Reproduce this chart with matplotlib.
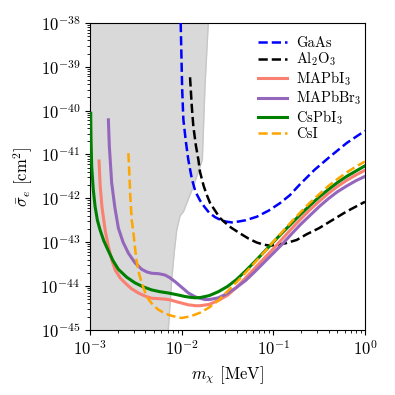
import numpy as np
import matplotlib
matplotlib.use("Agg")
import matplotlib.pyplot as plt

plt.rcParams["font.family"] = "serif"
plt.rcParams["font.serif"] = ["cmr10"]
plt.rcParams["mathtext.fontset"] = "cm"
plt.rcParams["axes.formatter.use_mathtext"] = True
plt.rcParams["font.size"] = 12

# log10 values (x: m_chi in MeV, y: sigma_e in cm^2)
excl_logx = [-2.146, -2.13, -2.109, -2.08, -2.054, -2.018, -1.98, -1.873, -1.775, -1.746, -1.71]
excl_logy = [-45.0, -44.5, -43.86, -43.2, -42.72, -42.40, -42.30, -41.73, -41.12, -39.45, -38.0]

gaas_logx = [-2.011, -1.995, -1.982, -1.955, -1.928, -1.89, -1.85, -1.80, -1.75, -1.70, -1.636,
             -1.58, -1.52, -1.454, -1.38, -1.30, -1.18, -1.05, -0.927, -0.82, -0.709, -0.55,
             -0.382, -0.2, 0.0]
gaas_logy = [-38.0, -39.5, -40.2, -40.7, -41.12, -41.55, -41.85, -42.05, -42.2, -42.33, -42.43,
             -42.49, -42.53, -42.55, -42.53, -42.5, -42.42, -42.28, -42.11, -41.93, -41.68, -41.35,
             -41.05, -40.74, -40.46]

al2o3_logx = [-1.909, -1.89, -1.873, -1.845, -1.818, -1.80, -1.76, -1.727, -1.69, -1.63, -1.582,
              -1.546, -1.46, -1.364, -1.27, -1.18, -1.10, -1.036, -0.95, -0.855, -0.745, -0.636,
              -0.5, -0.382, -0.2, 0.0]
al2o3_logy = [-39.24, -39.9, -40.36, -40.8, -41.12, -41.4, -41.72, -41.92, -42.11, -42.3, -42.45,
              -42.52, -42.67, -42.8, -42.92, -43.01, -43.06, -43.08, -43.06, -43.02, -42.95, -42.82,
              -42.68, -42.53, -42.3, -42.08]

mapbi3_logx = [-2.902, -2.89, -2.87, -2.836, -2.80, -2.764, -2.727, -2.67, -2.618, -2.55, -2.473,
               -2.40, -2.327, -2.25, -2.182, -2.12, -2.073, -2.0, -1.927, -1.85, -1.8, -1.7, -1.6,
               -1.5, -1.4, -1.3, -1.2, -1.1, -1.0, -0.9, -0.8, -0.7, -0.6, -0.5, -0.4, -0.3, -0.2,
               -0.1, 0.0]
mapbi3_logy = [-41.15, -41.7, -42.2, -42.72, -43.1, -43.4, -43.63, -43.82, -43.93, -44.06, -44.16,
               -44.23, -44.28, -44.29, -44.3, -44.32, -44.35, -44.39, -44.43, -44.45, -44.45, -44.42,
               -44.33, -44.21, -44.03, -43.81, -43.59, -43.37, -43.15, -42.92, -42.69, -42.47,
               -42.26, -42.07, -41.89, -41.73, -41.59, -41.47, -41.36]

mapbbr3_logx = [-2.8, -2.79, -2.764, -2.73, -2.691, -2.64, -2.582, -2.51, -2.436, -2.38, -2.327,
                -2.25, -2.182, -2.13, -2.073, -2.0, -1.927, -1.85, -1.782, -1.745, -1.7, -1.6,
                -1.5, -1.4, -1.3, -1.2, -1.1, -1.0, -0.9, -0.8, -0.7, -0.6, -0.5, -0.4, -0.3,
                -0.2, -0.1, 0.0]
mapbbr3_logy = [-40.21, -40.8, -41.65, -42.2, -42.68, -43.0, -43.25, -43.47, -43.62, -43.68, -43.71,
                -43.72, -43.75, -43.81, -43.9, -44.03, -44.16, -44.25, -44.29, -44.31, -44.31,
                -44.27, -44.17, -44.03, -43.87, -43.67, -43.46, -43.25, -43.04, -42.81, -42.59,
                -42.39, -42.19, -42.01, -41.85, -41.72, -41.60, -41.5]

cspbi3_logx = [-2.993, -2.99, -2.982, -2.965, -2.945, -2.92, -2.891, -2.85, -2.80, -2.75, -2.691,
               -2.60, -2.509, -2.42, -2.327, -2.24, -2.146, -2.05, -1.964, -1.9, -1.85, -1.8,
               -1.7, -1.6, -1.5, -1.4, -1.3, -1.2, -1.1, -1.0, -0.9, -0.8, -0.7, -0.6, -0.5, -0.4,
               -0.3, -0.2, -0.1, 0.0]
cspbi3_logy = [-40.06, -40.6, -41.28, -41.8, -42.19, -42.5, -42.72, -42.97, -43.2, -43.42, -43.62,
               -43.8, -43.93, -44.02, -44.09, -44.13, -44.16, -44.2, -44.24, -44.26, -44.27,
               -44.265, -44.22, -44.13, -44.01, -43.85, -43.65, -43.44, -43.22, -43.0, -42.78,
               -42.57, -42.36, -42.16, -41.97, -41.80, -41.64, -41.50, -41.38, -41.26]

csi_logx = [-2.582, -2.57, -2.56, -2.545, -2.527, -2.51, -2.491, -2.465, -2.436, -2.40, -2.364,
            -2.31, -2.255, -2.18, -2.109, -2.05, -2.0, -1.9, -1.8, -1.7, -1.6, -1.5, -1.4, -1.3,
            -1.2, -1.1, -1.0, -0.9, -0.8, -0.7, -0.6, -0.5, -0.4, -0.3, -0.2, -0.1, 0.0]
csi_logy = [-40.97, -41.5, -42.0, -42.5, -42.78, -43.12, -43.45, -43.72, -43.93, -44.14, -44.3,
            -44.44, -44.54, -44.63, -44.68, -44.71, -44.73, -44.69, -44.61, -44.49, -44.33, -44.12,
            -43.91, -43.69, -43.46, -43.23, -42.99, -42.76, -42.53, -42.31, -42.1, -41.91, -41.72,
            -41.56, -41.41, -41.28, -41.16]

curves = [
    ("GaAs", gaas_logx, gaas_logy, "blue", "--", 1.8),
    ("Al$_2$O$_3$", al2o3_logx, al2o3_logy, "black", "--", 1.8),
    ("MAPbI$_3$", mapbi3_logx, mapbi3_logy, "salmon", "-", 2.2),
    ("MAPbBr$_3$", mapbbr3_logx, mapbbr3_logy, "tab:purple", "-", 2.2),
    ("CsPbI$_3$", cspbi3_logx, cspbi3_logy, "green", "-", 2.2),
    ("CsI", csi_logx, csi_logy, "orange", "--", 1.8),
]

fig = plt.figure(figsize=(3.95, 3.95), dpi=100)
ax = fig.add_axes([0.228, 0.165, 0.696, 0.777])

ex = 10.0 ** np.array(excl_logx)
ey = 10.0 ** np.array(excl_logy)
ax.fill_betweenx(ey, 1e-4, ex, color="0.85", lw=0, zorder=0)
ax.plot(ex, ey, color="0.78", lw=1.0, zorder=1)

for label, lx, ly, color, ls, lw in curves:
    ax.plot(10.0 ** np.array(lx), 10.0 ** np.array(ly), ls=ls, color=color, lw=lw,
            label=label, zorder=3)

ax.set_xscale("log")
ax.set_yscale("log")
ax.set_xlim(1e-3, 1)
ax.set_ylim(1e-45, 1e-38)
ax.set_xlabel(r"$m_\chi$ [MeV]")
ax.set_ylabel(r"$\bar{\sigma}_e$ [cm$^2$]")
ax.legend(loc="upper right", bbox_to_anchor=(1.035, 1.0), frameon=False,
          handlelength=2.0, handletextpad=0.6, labelspacing=0.07, fontsize=10.5)

fig.savefig("out.png", dpi=100)
